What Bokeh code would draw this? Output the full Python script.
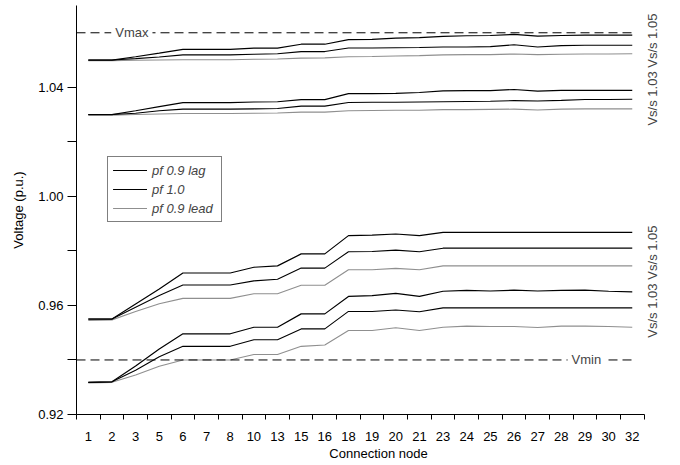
import math
from bokeh.plotting import figure
from bokeh.models import (FixedTicker, NumeralTickFormatter, Legend, LegendItem,
                          Label, Range1d)
from bokeh.embed import file_html
from bokeh.resources import INLINE

# ---------------- data ----------------
nodes = [1, 2, 3, 5, 6, 7, 8, 10, 13, 15, 16, 18, 19, 20, 21, 23, 24, 25, 26, 27, 28, 29, 30, 32]

# Vs/s 1.05, upper group
a_lag  = [1.0500, 1.0500, 1.0512, 1.0525, 1.0539, 1.0539, 1.0539, 1.0544, 1.0544, 1.0558, 1.0558, 1.0575,
          1.0576, 1.0580, 1.0582, 1.0587, 1.0589, 1.0590, 1.0594, 1.0588, 1.0590, 1.0591, 1.0591, 1.0591]
a_pf1  = [1.0500, 1.0500, 1.0505, 1.0511, 1.0519, 1.0519, 1.0519, 1.0521, 1.0523, 1.0531, 1.0531, 1.0544,
          1.0544, 1.0545, 1.0546, 1.0548, 1.0548, 1.0549, 1.0556, 1.0548, 1.0553, 1.0554, 1.0554, 1.0554]
a_lead = [1.0498, 1.0498, 1.0499, 1.0500, 1.0501, 1.0501, 1.0501, 1.0503, 1.0504, 1.0507, 1.0508, 1.0512,
          1.0513, 1.0515, 1.0516, 1.0519, 1.0520, 1.0520, 1.0522, 1.0520, 1.0521, 1.0522, 1.0522, 1.0523]
# Vs/s 1.03, upper group
b_lag  = [1.0300, 1.0300, 1.0314, 1.0329, 1.0344, 1.0344, 1.0344, 1.0346, 1.0347, 1.0355, 1.0355, 1.0377,
          1.0377, 1.0378, 1.0381, 1.0387, 1.0388, 1.0388, 1.0392, 1.0386, 1.0389, 1.0389, 1.0389, 1.0389]
b_pf1  = [1.0300, 1.0300, 1.0305, 1.0314, 1.0320, 1.0320, 1.0320, 1.0321, 1.0322, 1.0331, 1.0331, 1.0344,
          1.0345, 1.0345, 1.0346, 1.0347, 1.0348, 1.0349, 1.0351, 1.0350, 1.0352, 1.0355, 1.0355, 1.0356]
b_lead = [1.0298, 1.0298, 1.0300, 1.0302, 1.0304, 1.0304, 1.0304, 1.0305, 1.0306, 1.0309, 1.0309, 1.0314,
          1.0315, 1.0316, 1.0316, 1.0318, 1.0318, 1.0319, 1.0320, 1.0317, 1.0320, 1.0321, 1.0321, 1.0321]
# Vs/s 1.05, lower group
c_lag  = [0.9550, 0.9550, 0.9605, 0.9660, 0.9719, 0.9719, 0.9719, 0.9740, 0.9745, 0.9789, 0.9789, 0.9856,
          0.9858, 0.9862, 0.9856, 0.9868, 0.9868, 0.9868, 0.9868, 0.9868, 0.9868, 0.9868, 0.9868, 0.9868]
c_pf1  = [0.9550, 0.9550, 0.9593, 0.9636, 0.9675, 0.9675, 0.9675, 0.9690, 0.9696, 0.9737, 0.9737, 0.9797,
          0.9798, 0.9803, 0.9797, 0.9810, 0.9810, 0.9810, 0.9810, 0.9810, 0.9810, 0.9810, 0.9810, 0.9810]
c_lead = [0.9545, 0.9547, 0.9578, 0.9606, 0.9626, 0.9626, 0.9626, 0.9643, 0.9643, 0.9674, 0.9674, 0.9731,
          0.9731, 0.9736, 0.9731, 0.9745, 0.9745, 0.9745, 0.9745, 0.9745, 0.9745, 0.9745, 0.9745, 0.9745]
# Vs/s 1.03, lower group
d_lag  = [0.9318, 0.9320, 0.9378, 0.9440, 0.9496, 0.9496, 0.9496, 0.9520, 0.9520, 0.9569, 0.9569, 0.9633,
          0.9636, 0.9644, 0.9633, 0.9652, 0.9655, 0.9653, 0.9656, 0.9653, 0.9655, 0.9656, 0.9652, 0.9650]
d_pf1  = [0.9318, 0.9320, 0.9362, 0.9412, 0.9450, 0.9450, 0.9450, 0.9474, 0.9474, 0.9514, 0.9514, 0.9578,
          0.9578, 0.9583, 0.9577, 0.9591, 0.9591, 0.9591, 0.9591, 0.9591, 0.9591, 0.9591, 0.9591, 0.9591]
d_lead = [0.9316, 0.9318, 0.9345, 0.9377, 0.9400, 0.9400, 0.9400, 0.9420, 0.9420, 0.9450, 0.9455, 0.9508,
          0.9508, 0.9518, 0.9508, 0.9520, 0.9524, 0.9523, 0.9523, 0.9519, 0.9524, 0.9524, 0.9523, 0.9520]

v_max = 1.06
v_min = 0.94
y_ticks = [0.92, 0.96, 1.00, 1.04]
y_minor = [0.94, 0.98, 1.02]
legend_labels = ["pf 0.9 lag", "pf 1.0", "pf 0.9 lead"]
vs_texts = ["Vs/s 1.05", "Vs/s 1.03", "Vs/s 1.05", "Vs/s 1.03"]
vs_y = [1.0571, 1.0359, 0.9794, 0.9581]

# ---------------- figure ----------------
FONT = "Liberation Sans"
FS = "13px"
xs = list(range(len(nodes)))
last = len(nodes) - 1

p = figure(width=680, height=465, output_backend="svg", toolbar_location=None,
           x_range=Range1d(-0.5, 25.04), y_range=Range1d(0.92, 1.07),
           min_border_left=76, min_border_right=0, min_border_top=5, min_border_bottom=51)
p.xgrid.visible = False
p.ygrid.visible = False
p.outline_line_color = None
p.background_fill_color = "white"

styles = [dict(line_color="black", line_width=1.2),
          dict(line_color="black", line_width=1.1),
          dict(line_color="#8f8f8f", line_width=1.1)]
groups = [(a_lag, a_pf1, a_lead), (b_lag, b_pf1, b_lead),
          (c_lag, c_pf1, c_lead), (d_lag, d_pf1, d_lead)]
rends = [[], [], []]
for g in groups:
    for k in (2, 1, 0):
        r = p.line(xs, g[k], **styles[k])
        rends[k].append(r)

# limit lines
for v in (v_max, v_min):
    p.segment(x0=[-0.5], y0=[v], x1=[last], y1=[v], line_color="black",
              line_width=1, line_dash="9 5")
p.add_layout(Label(x=1.84, y=v_max, text="Vmax", text_align="center", text_baseline="middle",
                   text_font=FONT, text_font_size=FS, background_fill_color="white", padding=4))
p.add_layout(Label(x=21.06, y=v_min, text="Vmin", text_align="center", text_baseline="middle",
                   text_font=FONT, text_font_size=FS, background_fill_color="white", padding=4))
for t, yv in zip(vs_texts, vs_y):
    p.add_layout(Label(x=23.85, y=yv, text=t, angle=math.pi / 2, text_align="center",
                       text_baseline="middle", text_font=FONT, text_font_size=FS))

# legend
items = [LegendItem(label=legend_labels[k], renderers=rends[k]) for k in range(3)]
leg = Legend(items=items, location=(31, 192), border_line_color="black", border_line_width=1,
             label_text_font=FONT, label_text_font_style="italic", label_text_font_size=FS,
             glyph_width=34, glyph_height=16, label_height=16, label_width=64, spacing=3,
             padding=5, margin=0, label_standoff=5, background_fill_color="white",
             background_fill_alpha=1)
p.add_layout(leg)

# x axis (category-style: ticks between nodes)
xa = p.xaxis[0]
xa.ticker = FixedTicker(ticks=xs, minor_ticks=[i - 0.5 for i in range(len(nodes) + 1)])
xa.major_label_overrides = {i: str(n) for i, n in enumerate(nodes)}
xa.bounds = (-0.5, len(nodes) - 0.5)
xa.major_tick_out = 0
xa.major_tick_in = 0
xa.minor_tick_out = 5
xa.minor_tick_in = 0
xa.minor_tick_line_color = "black"
xa.major_label_standoff = 12
xa.axis_label = "Connection node"
xa.axis_label_standoff = 2

ya = p.yaxis[0]
ya.ticker = FixedTicker(ticks=y_ticks, minor_ticks=y_minor)
ya.formatter = NumeralTickFormatter(format="0.00")
ya.bounds = (0.92, 1.07)
ya.major_tick_out = 9
ya.major_tick_in = 0
ya.minor_tick_out = 9
ya.minor_tick_in = 0
ya.minor_tick_line_color = "black"
ya.major_label_standoff = 4
ya.axis_label = "Voltage (p.u.)"
ya.axis_label_standoff = 9

for ax in (xa, ya):
    ax.axis_line_color = "black"
    ax.axis_line_width = 1
    ax.major_tick_line_color = "black" if ax is ya else None
    ax.major_label_text_font = FONT
    ax.major_label_text_font_size = FS
    ax.major_label_text_color = "black"
    ax.axis_label_text_font = FONT
    ax.axis_label_text_font_size = FS
    ax.axis_label_text_font_style = "normal"
    ax.axis_label_text_color = "black"

open("out.html", "w").write(file_html(p, INLINE))
